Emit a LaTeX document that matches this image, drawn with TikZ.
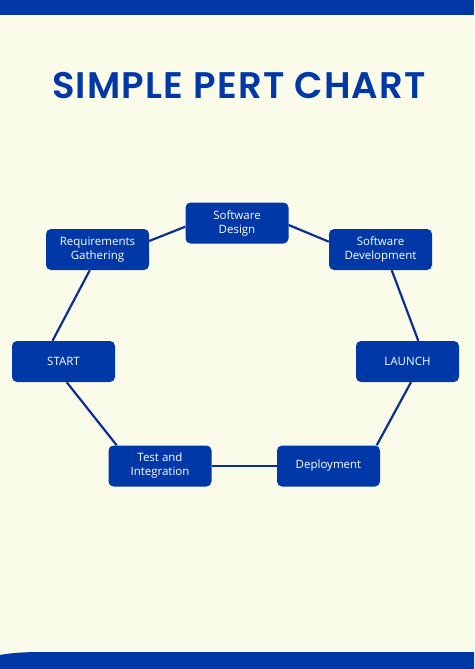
\documentclass[tikz,border=0pt]{standalone}
\usepackage{fontspec}
\setmainfont{Open Sans}
\newfontfamily\titlefont{Poppins SemiBold}[LetterSpace=3.3]
\definecolor{bgc}{HTML}{FAFBE8}
\definecolor{barc}{HTML}{0037A6}
\definecolor{boxc}{HTML}{0038A8}
\definecolor{linec}{HTML}{0A2F94}
\begin{document}
\begin{tikzpicture}[x=1pt,y=-1pt,
  task/.style={draw=none,fill=boxc,rounded corners=5pt,minimum width=103pt,minimum height=41pt,
    text=white,font=\fontsize{11.5}{14}\selectfont,align=center,inner sep=0pt},
  link/.style={draw=linec,line width=2.2pt}]
\useasboundingbox (0,0) rectangle (474,669);
\fill[bgc] (0,0) rectangle (474,669);
\fill[barc] (0,0) rectangle (474,15);
\fill[barc] (0,669) -- (0,655) .. controls (10,653) and (25,652) .. (40,652) -- (474,652) -- (474,669) -- cycle;
\node[text=boxc,font=\titlefont\fontsize{37}{40}\selectfont] (title) at (239,86) {SIMPLE PERT CHART};
\node[task] (sd) at (237,223) {Software\\Design};
\node[task] (rg) at (97.5,249.5) {Requirements\\Gathering};
\node[task] (dev) at (380.5,249.5) {Software\\Development};
\node[task] (start) at (63.5,361.5) {START};
\node[task] (launch) at (407.5,361.5) {LAUNCH};
\node[task] (test) at (160,466) {Test and\\Integration};
\node[task] (dep) at (328.5,466) {Deployment};
\draw[link] ([xshift=40.7pt]start.north west) -- ([xshift=44pt]rg.south west);
\draw[link] ([yshift=8.5pt]rg.east) -- ([yshift=-3.7pt]sd.west);
\draw[link] ([yshift=-2pt]sd.east) -- ([yshift=7.8pt]dev.west);
\draw[link] ([xshift=11.2pt]dev.south) -- ([xshift=10.8pt]launch.north);
\draw[link] ([xshift=3.5pt]launch.south) -- ([xshift=48.2pt]dep.north);
\draw[link] (dep.west) -- (test.east);
\draw[link] ([xshift=-43.3pt]test.north) -- ([xshift=3.2pt]start.south);
\end{tikzpicture}
\end{document}
